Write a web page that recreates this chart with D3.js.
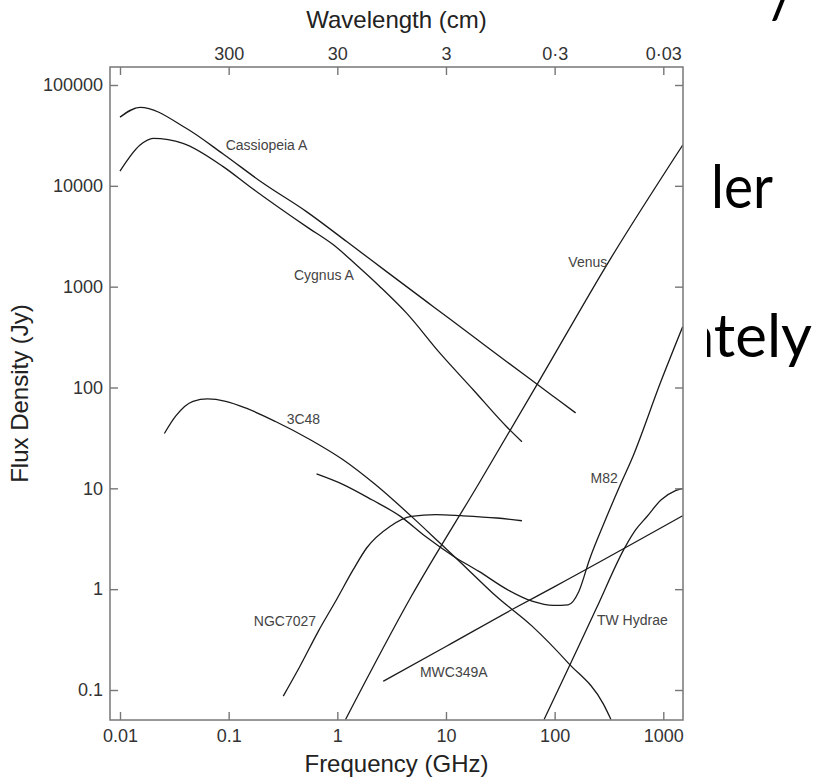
<!DOCTYPE html>
<html>
<head>
<meta charset="utf-8">
<script src="https://cdn.jsdelivr.net/npm/d3@7"></script>
<style>
  body { margin: 0; background: #fff; }
  svg { display: block; }
  text { font-family: "Liberation Sans", Arial, Helvetica, sans-serif; }
</style>
</head>
<body>
<div id="chart"></div>
<script>
const WIDTH = 813;
const HEIGHT = 781;

// frequency (GHz) / flux density (Jy) pairs
const CAS_A = [[0.01, 48000], [0.0153, 60000], [0.041, 37000], [0.089, 20700], [0.208, 10600],
  [0.52, 5550], [1.22, 2800], [2.84, 1410], [7.6, 637], [17.8, 321], [36, 181], [73, 103],
  [112, 73], [156, 56]];
const CYG_A = [[0.01, 14000], [0.0153, 25400], [0.0202, 29600], [0.038, 26400], [0.089, 15500],
  [0.157, 9800], [0.52, 3940], [0.92, 2600], [1.5, 1640], [2.47, 1000], [4.34, 546], [8.8, 219],
  [17.8, 95], [36, 41], [50, 29]];
const C3C48 = [[0.0256, 35], [0.0325, 52], [0.047, 73], [0.064, 77], [0.094, 73], [0.147, 62],
  [0.27, 46], [0.575, 30], [1.13, 19.2], [2.24, 10.9], [4.78, 5.3], [8.7, 2.9], [16, 1.56],
  [29, 0.85], [62, 0.43], [133, 0.186], [282, 0.072], [330, 0.051]];
const M82 = [[0.644, 13.9], [1.135, 10.9], [2.08, 7.7], [3.81, 5.27], [6.45, 3.34], [11.8, 2.11],
  [20.1, 1.5], [36.7, 0.99], [62, 0.76], [98, 0.69], [133, 0.70], [167, 0.95], [209, 1.96],
  [282, 4.4], [406, 11.1], [510, 19.2], [948, 114], [1510, 402]];
const NGC7027 = [[0.318, 0.087], [0.453, 0.172], [0.67, 0.384], [0.985, 0.79], [1.4, 1.56],
  [1.86, 2.56], [3.05, 4.19], [4.8, 5.27], [8.1, 5.48], [13.8, 5.35], [29.4, 5.08], [50, 4.77]];
const MWC349A = [[2.64, 0.122], [10, 0.27], [43, 0.65], [100, 1.06], [1510, 5.35]];
const TW_HYA = [[80, 0.051], [134, 0.165], [244, 0.657], [449, 2.66], [558, 3.89], [705, 5.23],
  [957, 7.7], [1295, 9.47], [1510, 10]];
const VENUS = [[1.19, 0.051], [4.8, 0.85], [20.2, 11.3], [73, 119], [322, 1845], [1510, 25400]];

const SERIES = [CAS_A, CYG_A, C3C48, M82, NGC7027, MWC349A, TW_HYA, VENUS];

// label name and anchor point (GHz, Jy)
const LABELS = [["Cassiopeia A", 0.223, 25400], ["Cygnus A", 0.753, 1310], ["3C48", 0.487, 49],
  ["NGC7027", 0.33, 0.487], ["MWC349A", 11.8, 0.149], ["TW Hydrae", 519, 0.499],
  ["M82", 286, 12.7], ["Venus", 202, 1762]];

const FREQ_TICKS = [0.01, 0.1, 1, 10, 100, 1000];
const FREQ_LABELS = ["0.01", "0.1", "1", "10", "100", "1000"];
const FLUX_TICKS = [0.1, 1, 10, 100, 1000, 10000, 100000];
const FLUX_LABELS = ["0.1", "1", "10", "100", "1000", "10000", "100000"];
const WAVE_TICKS = [3000, 300, 30, 3, 0.3, 0.03];
const WAVE_LABELS = ["", "300", "30", "3", "0\u00b73", "0\u00b703"];

// frame
const LEFT = 110, RIGHT = 683, TOP = 67, BOTTOM = 720;

var xScale = d3.scaleLog().domain([0.01, 1000]).range([120, 663.3]);
var yScale = d3.scaleLog().domain([0.1, 100000]).range([690, 85]);
// wavelength in cm = 30 / frequency in GHz
var wScale = d3.scaleLog().domain([30 / 0.01, 30 / 1000]).range([120, 663.3]);

var svg = d3.select("#chart").append("svg")
  .attr("width", WIDTH)
  .attr("height", HEIGHT);

// slide text behind the figure
svg.append("clipPath").attr("id", "slide-clip")
  .append("rect").attr("x", 707).attr("y", 0).attr("width", 120).attr("height", HEIGHT);
var slide = svg.append("g").attr("clip-path", "url(#slide-clip)")
  .attr("fill", "#000");
slide.append("text").attr("x", 773).attr("y", 208).attr("text-anchor", "end")
  .attr("textLength", 62).attr("lengthAdjust", "spacingAndGlyphs")
  .style("font-size", "60px").style("font-family", "Lato, sans-serif").text("ler");
slide.append("text").attr("x", 812).attr("y", 357).attr("text-anchor", "end")
  .style("font-size", "60px").style("font-family", "Lato, sans-serif").text("ately");
slide.append("text").attr("x", 770).attr("y", 18).attr("text-anchor", "start")
  .style("font-size", "60px").style("font-family", "Lato, sans-serif").text("/");

svg.append("clipPath").attr("id", "plot-area")
  .append("rect").attr("x", LEFT).attr("y", TOP)
  .attr("width", RIGHT - LEFT).attr("height", BOTTOM - TOP);

var line = d3.line()
  .x((d) => xScale(d[0]))
  .y((d) => yScale(d[1]))
  .curve(d3.curveMonotoneX);

svg.append("g").attr("clip-path", "url(#plot-area)")
  .selectAll("path")
  .data(SERIES)
  .enter()
  .append("path")
  .attr("d", line)
  .attr("fill", "none")
  .attr("stroke", "#1a1a1a")
  .attr("stroke-width", 1.3);

svg.append("g")
  .selectAll("text")
  .data(LABELS)
  .enter()
  .append("text")
  .attr("x", (d) => xScale(d[1]))
  .attr("y", (d) => yScale(d[2]))
  .attr("dy", "0.35em")
  .attr("text-anchor", "middle")
  .attr("fill", "#444")
  .style("font-size", "14px")
  .text((d) => d[0]);

// axes, ticks pointing inward
function styleAxis(g) {
  g.select(".domain").remove();
  g.selectAll(".tick line").attr("stroke", "#777").attr("stroke-width", 1.4);
  g.selectAll(".tick text").attr("fill", "#333").style("font-size", "18px")
    .style("font-family", "'Liberation Sans', Arial, sans-serif");
}

var xAxis = d3.axisBottom(xScale).tickValues(FREQ_TICKS)
  .tickFormat((d, i) => FREQ_LABELS[i]).tickSize(-8).tickPadding(9);
var yAxis = d3.axisLeft(yScale).tickValues(FLUX_TICKS)
  .tickFormat((d, i) => FLUX_LABELS[i]).tickSize(-8).tickPadding(7);
var topAxis = d3.axisTop(wScale).tickValues(WAVE_TICKS)
  .tickFormat((d, i) => WAVE_LABELS[i]).tickSize(-8).tickPadding(7);
var rightAxis = d3.axisRight(yScale).tickValues(FLUX_TICKS)
  .tickFormat("").tickSize(-8);

svg.append("g").attr("transform", "translate(0," + BOTTOM + ")").call(xAxis).call(styleAxis);
svg.append("g").attr("transform", "translate(" + LEFT + ",0)").call(yAxis).call(styleAxis);
svg.append("g").attr("transform", "translate(0," + TOP + ")").call(topAxis).call(styleAxis);
svg.append("g").attr("transform", "translate(" + RIGHT + ",0)").call(rightAxis).call(styleAxis);

// frame
svg.append("rect")
  .attr("x", LEFT).attr("y", TOP)
  .attr("width", RIGHT - LEFT).attr("height", BOTTOM - TOP)
  .attr("fill", "none").attr("stroke", "#777").attr("stroke-width", 1.5);

// titles
svg.append("text").attr("x", (LEFT + RIGHT) / 2).attr("y", 28)
  .attr("text-anchor", "middle").attr("fill", "#222").style("font-size", "24px")
  .text("Wavelength (cm)");
svg.append("text").attr("x", (LEFT + RIGHT) / 2).attr("y", 772)
  .attr("text-anchor", "middle").attr("fill", "#222").style("font-size", "24px")
  .text("Frequency (GHz)");
svg.append("text")
  .attr("transform", "translate(28," + (TOP + BOTTOM) / 2 + ") rotate(-90)")
  .attr("text-anchor", "middle").attr("fill", "#222").style("font-size", "24px")
  .text("Flux Density (Jy)");
</script>
</body>
</html>
